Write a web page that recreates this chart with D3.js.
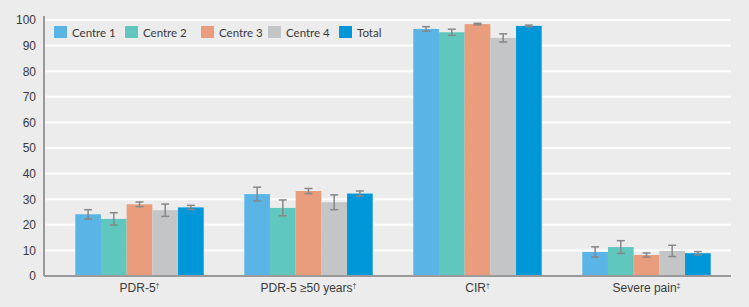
<!DOCTYPE html>
<html>
<head>
<meta charset="utf-8">
<script src="https://cdn.jsdelivr.net/npm/d3@7"></script>
<style>
  html, body { margin: 0; padding: 0; background: #ebeceb; }
  svg { display: block; font-family: Lato, "Noto Sans", sans-serif; }
  .tick text { fill: #3a3a3a; font-size: 12px; }
</style>
</head>
<body>
<div id="chart"></div>
<script>
// chart values
const categories = ["PDR-5†", "PDR-5 ≥50 years†", "CIR†", "Severe pain‡"]
const seriesNames = ["Centre 1", "Centre 2", "Centre 3", "Centre 4", "Total"]
const seriesColors = ["#5ab4e6", "#5fc7bd", "#ea9d7d", "#c4c5c6", "#0097d9"]
const centre1 = [24.1, 32.0, 96.5, 9.4]
const centre2 = [22.3, 26.6, 95.2, 11.3]
const centre3 = [28.0, 33.2, 98.4, 8.2]
const centre4 = [25.7, 28.8, 93.0, 9.8]
const total = [26.8, 32.2, 97.7, 8.9]
const err1 = [1.8, 2.7, 0.9, 2.0]
const err2 = [2.4, 3.1, 1.2, 2.5]
const err3 = [0.9, 1.0, 0.3, 0.8]
const err4 = [2.4, 2.9, 1.6, 2.2]
const errTotal = [0.8, 1.0, 0.3, 0.65]
const yTicks = [0, 10, 20, 30, 40, 50, 60, 70, 80, 90, 100]

const width = 749
const height = 307
const values = [centre1, centre2, centre3, centre4, total]
const errors = [err1, err2, err3, err4, errTotal]

// flatten into rows for drawing
const rows = []
categories.forEach((cat, i) => {
    seriesNames.forEach((s, j) => {
        rows.push({cat: cat, series: s, value: values[j][i], err: errors[j][i], color: seriesColors[j]})
    })
})

const $svg = d3.select("#chart").append("svg")
    .attr("width", width)
    .attr("height", height)

const xScale = d3.scaleBand()
    .domain(categories)
    .range([55, 731])
    .paddingInner(0.24)
    .paddingOuter(0.12)

const xInner = d3.scaleBand()
    .domain(seriesNames)
    .range([0, xScale.bandwidth()])

const yScale = d3.scaleLinear()
    .domain([0, 100])
    .range([276, 20])

//gridlines
$svg.append("g")
    .selectAll("line")
    .data(yTicks.filter(d => d > 0))
    .enter().append("line")
    .attr("x1", 44)
    .attr("x2", 731)
    .attr("y1", d => yScale(d))
    .attr("y2", d => yScale(d))
    .attr("stroke", "#fff")
    .attr("stroke-width", 2)

//bars
$svg.append("g")
    .selectAll("rect")
    .data(rows)
    .enter().append("rect")
    .attr("x", d => xScale(d.cat) + xInner(d.series))
    .attr("width", xInner.bandwidth())
    .attr("y", d => yScale(d.value))
    .attr("height", d => yScale(0) - yScale(d.value))
    .attr("fill", d => d.color)

//error bars
const $err = $svg.append("g")
    .attr("stroke", "#878787")
    .attr("stroke-width", 1.5)
    .selectAll("g")
    .data(rows)
    .enter().append("g")
    .attr("transform", d => `translate(${xScale(d.cat) + xInner(d.series) + xInner.bandwidth() / 2},0)`)

$err.append("line")
    .attr("y1", d => yScale(d.value + d.err))
    .attr("y2", d => yScale(d.value - d.err))
$err.append("line")
    .attr("x1", -4).attr("x2", 4)
    .attr("y1", d => yScale(d.value + d.err))
    .attr("y2", d => yScale(d.value + d.err))
$err.append("line")
    .attr("x1", -4).attr("x2", 4)
    .attr("y1", d => yScale(d.value - d.err))
    .attr("y2", d => yScale(d.value - d.err))

//axes
const yAxis = g => g.attr("transform", "translate(44,0)")
    .call(d3.axisLeft(yScale).tickValues(yTicks).tickSize(0).tickPadding(8))
    .call(g => g.select(".domain").attr("stroke", "#9a9a9a").attr("stroke-width", 2).attr("d", `M0,${yScale(100) - 4}V${yScale(0)}`))

$svg.append("g").call(yAxis)

const xAxis = g => g.attr("transform", `translate(0,${yScale(0)})`)
    .call(d3.axisBottom(xScale).tickSize(0).tickPadding(7))
    .call(g => g.select(".domain").attr("stroke", "#9a9a9a").attr("stroke-width", 2).attr("d", "M44,0H731"))

$svg.append("g").call(xAxis)

// superscript daggers
$svg.selectAll(".tick text").filter(d => typeof d === "string")
    .each(function(d) {
        const mark = d.slice(-1)
        const base = d.slice(0, -1)
        const t = d3.select(this).text(base)
        t.append("tspan").text(mark).attr("font-size", "7px").attr("dy", "-4")
    })

//legend
const legendX = [54, 125, 201, 268, 339]
const $legend = $svg.append("g")
    .selectAll("g")
    .data(seriesNames)
    .enter().append("g")
    .attr("transform", (d, i) => `translate(${legendX[i]},26)`)

$legend.append("rect")
    .attr("width", 13)
    .attr("height", 12)
    .attr("fill", (d, i) => seriesColors[i])

$legend.append("text")
    .text(d => d)
    .attr("x", 18)
    .attr("y", 10.5)
    .attr("font-size", "11.5px")
    .attr("fill", "#3a3a3a")
</script>
</body>
</html>
